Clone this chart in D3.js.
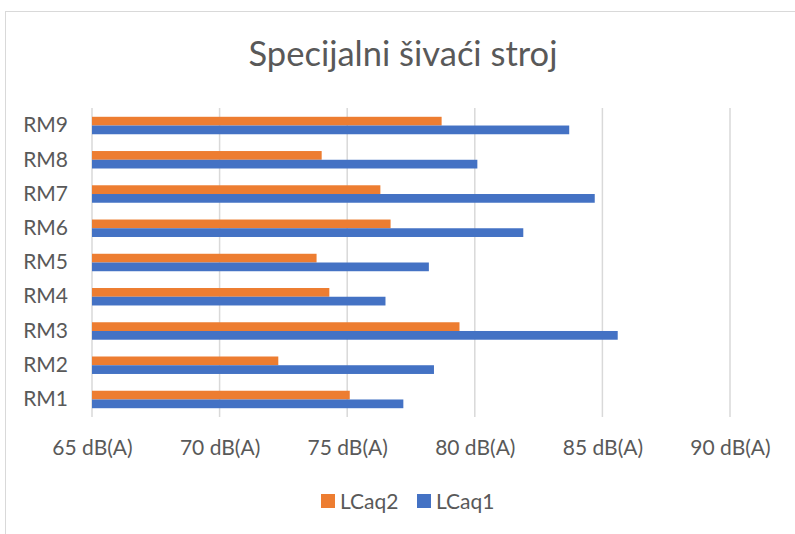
<!DOCTYPE html>
<html lang="hr">
<head>
<meta charset="UTF-8">
<title>Specijalni šivaći stroj</title>
<style>
  body { margin: 0; background: #fff; }
  svg { display: block; font-family: Lato, "Open Sans", sans-serif; }
</style>
</head>
<body>
<div id="chart"></div>
<script src="https://d3js.org/d3.v7.min.js"></script>
<script>
const categories = ["RM1", "RM2", "RM3", "RM4", "RM5", "RM6", "RM7", "RM8", "RM9"];
const lcaq1 = [77.2, 78.4, 85.6, 76.5, 78.2, 81.9, 84.7, 80.1, 83.7];
const lcaq2 = [75.1, 72.3, 79.4, 74.3, 73.8, 76.7, 76.3, 74.0, 78.7];
const xTicks = [65, 70, 75, 80, 85, 90];
const seriesNames = ["LCaq2", "LCaq1"];
const colors = { LCaq2: "#ED7D31", LCaq1: "#4472C4" };

const width = 795, height = 534;
const svg = d3.select("#chart").append("svg")
  .attr("width", width).attr("height", height);

// chart frame
svg.append("rect")
  .attr("x", 5.5).attr("y", 11.5)
  .attr("width", width + 20).attr("height", height + 20)
  .attr("fill", "#fff").attr("stroke", "#D9D9D9");

svg.append("text")
  .attr("x", 403).attr("y", 66)
  .attr("text-anchor", "middle")
  .attr("font-size", 34.5)
  .attr("fill", "#595959")
  .text("Specijalni šivaći stroj");

const x = d3.scaleLinear().domain([65, 90]).range([92, 730]);
const y = d3.scaleBand().domain(categories.slice().reverse()).range([108.4, 416.6]);
const bw = y.bandwidth();
const ySub = d3.scaleBand().domain(seriesNames).range([bw * 0.245, bw * 0.755]);

// gridlines
svg.append("g").selectAll("line").data(xTicks).join("line")
  .attr("x1", d => x(d)).attr("x2", d => x(d))
  .attr("y1", 108).attr("y2", 417)
  .attr("stroke", "#D9D9D9").attr("stroke-width", 1.5);

const rows = categories.map((c, i) => ({ cat: c, LCaq2: lcaq2[i], LCaq1: lcaq1[i] }));

const groups = svg.append("g").selectAll("g").data(rows).join("g")
  .attr("transform", d => `translate(0,${y(d.cat)})`);

groups.selectAll("rect")
  .data(d => seriesNames.map(s => ({ s, v: d[s] })))
  .join("rect")
  .attr("x", x(65))
  .attr("y", d => ySub(d.s))
  .attr("width", d => x(d.v) - x(65))
  .attr("height", ySub.bandwidth())
  .attr("fill", d => colors[d.s]);

// y labels
const yAxis = d3.axisLeft(y).tickSize(0).tickPadding(24);
svg.append("g").attr("transform", `translate(${x(65)},0)`).call(yAxis)
  .call(g => g.select(".domain").remove())
  .selectAll("text")
  .attr("font-size", 21).attr("font-family", "Lato, sans-serif")
  .attr("fill", "#595959");

// x labels
const xAxis = d3.axisBottom(x).tickValues(xTicks).tickSize(0).tickPadding(0)
  .tickFormat(d => d + " dB(A)");
svg.append("g").attr("transform", "translate(0,440)").call(xAxis)
  .call(g => g.select(".domain").remove())
  .selectAll("text")
  .attr("font-size", 21).attr("font-family", "Lato, sans-serif")
  .attr("fill", "#595959");

// legend
const legend = svg.append("g");
const legendX = [321, 417];
seriesNames.forEach((s, i) => {
  legend.append("rect")
    .attr("x", legendX[i]).attr("y", 494)
    .attr("width", 14).attr("height", 14)
    .attr("fill", colors[s]);
  legend.append("text")
    .attr("x", legendX[i] + 19).attr("y", 509)
    .attr("font-size", 21).attr("fill", "#595959")
    .text(s);
});
</script>
</body>
</html>
